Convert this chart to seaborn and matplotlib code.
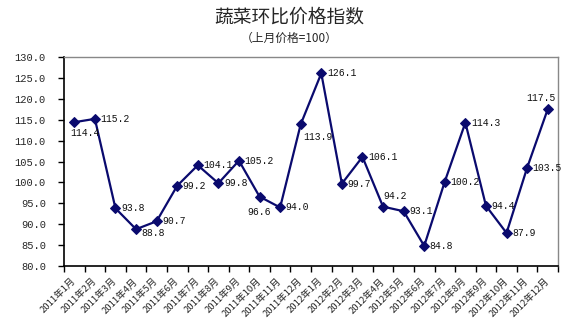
import matplotlib
matplotlib.use("Agg")
import matplotlib.pyplot as plt
import seaborn as sns
import pandas as pd
import numpy as np

# Monthly vegetable price index, previous month = 100
months = [f"2011年{m}月" for m in range(1, 13)] + [f"2012年{m}月" for m in range(1, 13)]
index_values = [114.4, 115.2, 93.8, 88.8, 90.7, 99.2, 104.1, 99.8, 105.2, 96.6, 94.0, 113.9,
                126.1, 99.7, 106.1, 94.2, 93.1, 84.8, 100.2, 114.3, 94.4, 87.9, 103.5, 117.5]

# Label placement per point: (dx, dy) in points, horizontal alignment
label_pos = {
    0: (-3, -8, "left"), 9: (0, -11, "center"), 11: (2, -9, "left"),
    15: (0, 8, "left"), 23: (-5, 8, "center"), 3: (4, -3, "left"),
}

sns.set_theme(style="white")
plt.rcParams["font.family"] = ["Noto Sans CJK SC", "DejaVu Sans"]

fig = plt.figure(figsize=(5.75, 3.24), dpi=100)
ax = fig.add_axes([64 / 575, 1 - 266 / 324, (558 - 64) / 575, (266 - 57) / 324])

df = pd.DataFrame({"pos": np.arange(len(months)), "value": index_values})
line_color = "#0a0a6e"
sns.lineplot(data=df, x="pos", y="value", ax=ax, color=line_color, linewidth=1.6,
             marker="D", markersize=5, markeredgecolor=line_color, markerfacecolor=line_color)

for i, v in enumerate(index_values):
    dx, dy, ha = label_pos.get(i, (4, 0, "left"))
    ax.annotate(f"{v:.1f}", (i, v), xytext=(dx, dy), textcoords="offset points",
                ha=ha, va="center", fontsize=7, family="Liberation Mono", color="#111111")

ax.set_xlim(-0.5, len(months) - 0.5)
ax.set_ylim(80, 130)
ax.set_yticks(np.arange(80, 131, 5))
ax.set_yticklabels([f"{t:.1f}" for t in np.arange(80, 131, 5)], family="Liberation Mono", fontsize=7.5)

ax.set_xticks(np.arange(len(months)))
ax.set_xticklabels(months, rotation=45, ha="right", va="center", rotation_mode="anchor", fontsize=6.8)
ax.tick_params(axis="x", which="major", length=0, pad=10)
ax.set_xticks(np.arange(len(months) + 1) - 0.5, minor=True)
ax.tick_params(axis="x", which="minor", length=4, width=1, color="black", direction="out", bottom=True)
ax.tick_params(axis="y", length=4, width=1, color="black", direction="out", left=True, pad=9)

ax.set_xlabel("")
ax.set_ylabel("")
for side in ("left", "bottom"):
    ax.spines[side].set_color("black")
    ax.spines[side].set_linewidth(1.2)
for side in ("top", "right"):
    ax.spines[side].set_color("#888888")
    ax.spines[side].set_linewidth(1.0)

fig.text(289 / 575, 1 - 17 / 324, "蔬菜环比价格指数", ha="center", va="center", fontsize=13.5)
fig.text(289 / 575, 1 - 38 / 324, "（上月价格=100）", ha="center", va="center", fontsize=8.5)

fig.savefig("out.png", dpi=100)
